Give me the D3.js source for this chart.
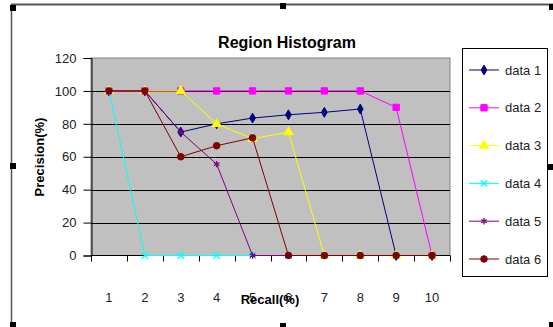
<!DOCTYPE html>
<html>
<head>
<meta charset="utf-8">
<script src="https://cdn.jsdelivr.net/npm/d3@7"></script>
<style>
  html, body { margin: 0; padding: 0; background: #fff; }
  svg { display: block; font-family: Arial, "Liberation Sans", sans-serif; }
</style>
</head>
<body>
<svg id="chart" width="553" height="327"></svg>
<script>
// Recall categories (x axis)
const categories = ["1", "2", "3", "4", "5", "6", "7", "8", "9", "10"];
// Precision values per series
const data1 = [100, 100, 75, 80, 83.5, 85.5, 87, 89, 0, 0];
const data2 = [100, 100, 100, 100, 100, 100, 100, 100, 90, 0];
const data3 = [100, 100, 100, 80, 71, 75, 0, 0, 0, 0];
const data4 = [100, 0, 0, 0, 0, 0, 0, 0, 0, 0];
const data5 = [100, 100, 75, 55.5, 0, 0, 0, 0, 0, 0];
const data6 = [100, 100, 60, 66.7, 71.5, 0, 0, 0, 0, 0];
const yTicks = [0, 20, 40, 60, 80, 100, 120];
const seriesNames = ["data 1", "data 2", "data 3", "data 4", "data 5", "data 6"];

const series = [
  { name: seriesNames[0], values: data1, color: "#000080", marker: "diamond" },
  { name: seriesNames[1], values: data2, color: "#ff00ff", marker: "square" },
  { name: seriesNames[2], values: data3, color: "#ffff00", marker: "triangle" },
  { name: seriesNames[3], values: data4, color: "#00ffff", marker: "cross" },
  { name: seriesNames[4], values: data5, color: "#800080", marker: "star" },
  { name: seriesNames[5], values: data6, color: "#800000", marker: "circle" }
];

const svg = d3.select("#chart");

// Chart frame with selection handles
svg.append("line").attr("x1", 11).attr("x2", 553).attr("y1", 4.5).attr("y2", 4.5)
  .attr("stroke", "#555").attr("stroke-width", 2);
svg.append("line").attr("x1", 11.5).attr("x2", 11.5).attr("y1", 4).attr("y2", 327)
  .attr("stroke", "#555").attr("stroke-width", 1.5);
const handles = [[10, 5], [280, 3], [549, 4], [10, 163], [548, 164], [10, 322], [280, 323], [549, 322]];
svg.selectAll("rect.handle").data(handles).join("rect")
  .attr("class", "handle")
  .attr("x", d => d[0]).attr("y", d => d[1])
  .attr("width", 6).attr("height", 6).attr("fill", "#000");

const plot = { left: 91, right: 450, top: 58, bottom: 255.5 };

const x = d3.scalePoint().domain(categories).range([plot.left, plot.right]).padding(0.5);
const xBand = d3.scaleBand().domain(categories).range([plot.left, plot.right]);
const y = d3.scaleLinear().domain([0, 120]).range([plot.bottom, plot.top]);

// Plot area
svg.append("rect")
  .attr("x", plot.left).attr("y", plot.top)
  .attr("width", plot.right - plot.left).attr("height", plot.bottom - plot.top)
  .attr("fill", "#c0c0c0").attr("stroke", "#808080").attr("stroke-width", 1);

// Horizontal gridlines
svg.append("g").selectAll("line")
  .data(yTicks.filter(t => t > 0 && t < 120))
  .join("line")
  .attr("x1", plot.left).attr("x2", plot.right)
  .attr("y1", d => Math.round(y(d)) + 0.5).attr("y2", d => Math.round(y(d)) + 0.5)
  .attr("stroke", "#000").attr("stroke-width", 1);

// Y axis
const yAxis = svg.append("g")
  .attr("transform", `translate(${plot.left + 0.5},0)`)
  .call(d3.axisLeft(y).tickValues(yTicks).tickSize(8).tickPadding(7));
yAxis.select(".domain").attr("stroke", "#000");
yAxis.selectAll(".tick line").attr("stroke", "#000");
yAxis.selectAll(".tick text").attr("font-size", 13).attr("fill", "#222")
  .attr("font-family", "Arial, 'Liberation Sans', sans-serif");

// X axis: tick marks at category boundaries, labels centred in each category
const boundaries = categories.map(c => xBand(c)).concat([plot.right]);
svg.append("line")
  .attr("x1", plot.left).attr("x2", plot.right)
  .attr("y1", plot.bottom).attr("y2", plot.bottom)
  .attr("stroke", "#000");
svg.append("g").selectAll("line")
  .data(boundaries).join("line")
  .attr("x1", d => Math.round(d) + 0.5).attr("x2", d => Math.round(d) + 0.5)
  .attr("y1", plot.bottom).attr("y2", plot.bottom + 6)
  .attr("stroke", "#000");
svg.append("g").selectAll("text")
  .data(categories).join("text")
  .attr("x", d => x(d)).attr("y", 302)
  .attr("text-anchor", "middle")
  .attr("font-size", 13).attr("fill", "#222")
  .text(d => d);

// Marker shapes
const symbolFor = {
  diamond: d3.symbol().type(d3.symbolDiamond).size(28),
  square: d3.symbol().type(d3.symbolSquare).size(40),
  triangle: d3.symbol().type(d3.symbolTriangle).size(38),
  cross: d3.symbol().type(d3.symbolX).size(28),
  star: d3.symbol().type(d3.symbolAsterisk).size(28),
  circle: d3.symbol().type(d3.symbolCircle).size(34)
};

function drawMarker(g, s, cx, cy) {
  const strokeOnly = s.marker === "cross" || s.marker === "star";
  g.append("path")
    .attr("d", symbolFor[s.marker]())
    .attr("transform", `translate(${cx},${cy})`)
    .attr("fill", strokeOnly ? "none" : s.color)
    .attr("stroke", s.color)
    .attr("stroke-width", strokeOnly ? 1.3 : 1);
}

const line = d3.line()
  .x((d, i) => x(categories[i]))
  .y(d => y(d));

// Series lines and markers
series.forEach(s => {
  const g = svg.append("g");
  g.append("path")
    .attr("d", line(s.values))
    .attr("fill", "none")
    .attr("stroke", s.color)
    .attr("stroke-width", 1);
  s.values.forEach((v, i) => drawMarker(g, s, x(categories[i]), y(v)));
});

// Title
svg.append("text")
  .attr("x", 287).attr("y", 48)
  .attr("text-anchor", "middle")
  .attr("font-size", 16).attr("font-weight", "bold").attr("fill", "#000")
  .text("Region Histogram");

// Axis titles
svg.append("text")
  .attr("transform", "translate(44,157) rotate(-90)")
  .attr("text-anchor", "middle")
  .attr("font-size", 13).attr("font-weight", "bold").attr("fill", "#000")
  .text("Precision(%)");
svg.append("text")
  .attr("x", 270).attr("y", 304)
  .attr("text-anchor", "middle")
  .attr("font-size", 13).attr("font-weight", "bold").attr("fill", "#000")
  .text("Recall(%)");

// Legend
const legend = svg.append("g");
legend.append("rect")
  .attr("x", 462.5).attr("y", 48.5).attr("width", 85).attr("height", 228)
  .attr("fill", "#fff").attr("stroke", "#000").attr("stroke-width", 1);
series.forEach((s, i) => {
  const ly = 70 + i * 37.8;
  legend.append("line")
    .attr("x1", 469).attr("x2", 499).attr("y1", ly).attr("y2", ly)
    .attr("stroke", s.color).attr("stroke-width", 1);
  drawMarker(legend, s, 484, ly);
  legend.append("text")
    .attr("x", 505).attr("y", ly + 4.5)
    .attr("font-size", 13).attr("fill", "#222")
    .text(s.name);
});
</script>
</body>
</html>
